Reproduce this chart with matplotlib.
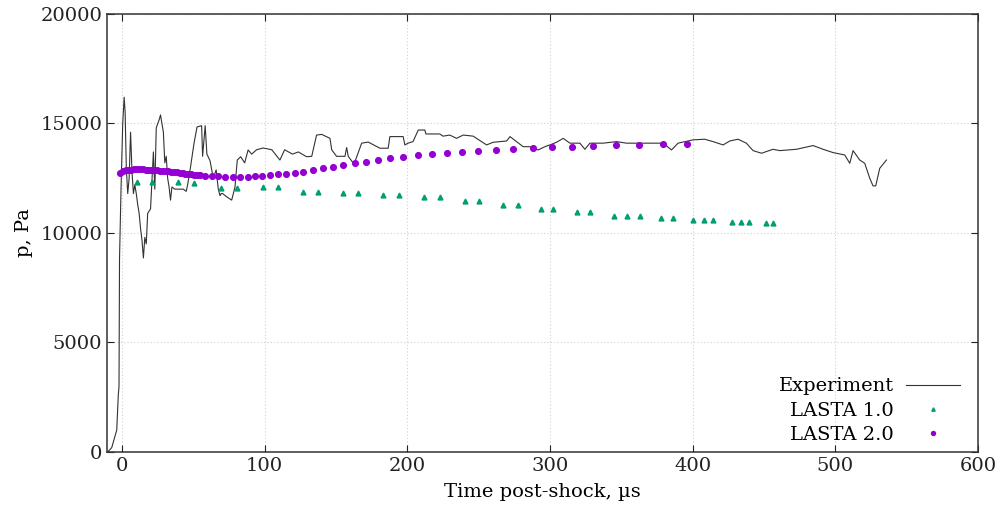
import numpy as np
import matplotlib
matplotlib.use("Agg")
import matplotlib.pyplot as plt

# experiment trace (time in us, pressure in Pa)
exp_t = [-10, -7.2, -3.7, -2.6, -2.1, -1.75, -0.7, 0.5, 1.5, 2.2, 3, 4, 5, 6, 7, 8, 9, 10,
         11, 12, 13, 14, 15, 16, 17, 18, 20, 21, 22, 23, 24, 26, 27, 28, 29, 30, 31, 32,
         33, 34, 35, 37, 40, 43, 45, 46, 48, 50.5, 52.6, 55.8, 56.5, 58.3, 59.5, 61.7,
         64, 66, 67.5, 68.7, 69.5, 70.5, 73.4, 76.9, 79.2, 80.8, 83.2, 86, 88.4, 90.9,
         94.4, 98.9, 105, 110.7, 114, 119.5, 123.6, 129.4, 133, 136.4, 140, 145.8, 147,
         150.4, 156.3, 157.5, 158.6, 162, 163, 168, 172.6, 180.8, 186.6, 187.8, 197.1,
         198.3, 200.6, 204, 207.7, 212.3, 213, 222.8, 225, 229.8, 234.5, 239.2, 246.2,
         248.5, 255.6, 260.2, 269.6, 272, 276.6, 281.2, 286, 291.7, 296.5, 300, 304.6,
         309.3, 314, 321, 324.5, 328, 337.3, 346.7, 353.7, 365.3, 379.4, 385.2, 389.8,
         400.3, 408.5, 414.4, 421.4, 426.1, 431.9, 437.7, 442.4, 448.3, 456.4, 461.1,
         472.8, 484.5, 491.5, 498.5, 506.7, 510.2, 512.5, 517.2, 520.7, 524.2, 526.5,
         528.4, 531.2, 535.9]
exp_p = [0, 200, 1000, 2600, 3000, 8800, 12000, 15000, 16200, 15500, 13000, 11800, 12500,
         14600, 12800, 11800, 12200, 11800, 11300, 10900, 10200, 9680, 8860, 9800, 9500,
         10900, 11100, 12400, 13700, 12000, 14800, 15160, 15390, 15000, 14600, 13200,
         13500, 12500, 12100, 11500, 12100, 12000, 12000, 12000, 11900, 12200, 13000,
         14100, 14840, 14900, 13500, 14900, 13600, 13300, 12500, 12880, 12000, 11700,
         11800, 11800, 11650, 11500, 12100, 13330, 13480, 13200, 13790, 13600, 13800,
         13880, 13800, 13330, 13800, 13600, 13700, 13480, 13500, 14470, 14500, 14320,
         13800, 13500, 13500, 13900, 13500, 13200, 13200, 14100, 14150, 13870, 13870,
         14400, 14400, 14020, 14100, 14170, 14700, 14700, 14520, 14520, 14420, 14470,
         14320, 14470, 14420, 14320, 14020, 14140, 14200, 14400, 14170, 13940, 13940,
         13790, 13940, 14020, 14140, 14320, 14100, 14100, 13820, 14100, 14100, 14170,
         14100, 14100, 14100, 13790, 14100, 14250, 14280, 14170, 14020, 14200, 14280,
         14100, 13760, 13640, 13820, 13760, 13820, 13990, 13820, 13670, 13560, 13180,
         13760, 13330, 13180, 12500, 12150, 12150, 12950, 13330]

# LASTA 1.0
l1_t = [10.3, 21.2, 39.5, 50.7, 69.2, 80.8, 99, 109.5, 127, 137.6, 154.6, 165.2, 183.1,
        194.3, 211.8, 222.8, 240.6, 250.4, 267.2, 277.3, 293.6, 302.3, 319.3, 328.4, 345,
        354.1, 363, 378.2, 386.3, 400.4, 408, 414.4, 427.7, 433.8, 439.6, 451.3, 456.4]
l1_p = [12340, 12340, 12340, 12300, 12040, 12040, 12090, 12090, 11890, 11890, 11840,
        11840, 11740, 11740, 11660, 11660, 11480, 11480, 11280, 11280, 11100, 11100,
        10940, 10940, 10780, 10780, 10780, 10670, 10670, 10590, 10590, 10590, 10520,
        10520, 10520, 10470, 10470]

# LASTA 2.0
l2_t = [-1.4, 0.5, 2.5, 4.5, 6.5, 8.5, 10.5, 12.5, 14.5, 16.5, 18.5, 20.5, 22.5, 24.5,
        26.5, 28.5, 30.5, 32.5, 34.5, 36.5, 38.5, 40.5, 42.5, 44.5, 46.5, 48.5, 50.5,
        52.5, 55, 58.2, 62.8, 67.5, 72.1, 78, 82.7, 88.1, 93.2, 98.3, 103.7, 109.6,
        114.9, 121.2, 127, 134.1, 140.6, 148.1, 155.1, 163.3, 171, 179.2, 187.8, 197.2,
        207.2, 217, 227.5, 238.7, 249.7, 261.9, 274.2, 287.8, 301.1, 315.8, 330.3,
        346.2, 362.5, 379.4, 396.4]
l2_p = [12750, 12820, 12860, 12880, 12890, 12900, 12900, 12900, 12900, 12890, 12880,
        12870, 12870, 12860, 12850, 12840, 12820, 12810, 12800, 12790, 12770, 12750,
        12730, 12710, 12690, 12680, 12660, 12650, 12630, 12620, 12600, 12580, 12560,
        12540, 12550, 12560, 12580, 12620, 12650, 12680, 12710, 12750, 12800, 12870,
        12950, 13030, 13100, 13180, 13260, 13330, 13400, 13490, 13550, 13590, 13670,
        13710, 13740, 13790, 13820, 13870, 13910, 13940, 13970, 14020, 14030, 14050,
        14060]

plt.rcParams['font.family'] = 'DejaVu Serif'
plt.rcParams['font.size'] = 14

fig = plt.figure(figsize=(10.05, 5.07), dpi=100)
ax = fig.add_axes([0.1065, 0.1085, 0.8665, 0.864])

ax.plot(exp_t, exp_p, color='#333333', lw=0.8, label='Experiment')
ax.plot(l1_t, l1_p, ls='none', marker='^', ms=3.5, color='#009e73', label='LASTA 1.0')
ax.plot(l2_t, l2_p, ls='none', marker='o', ms=4.1, color='#9400d3', label='LASTA 2.0')

ax.set_xlim(-10.5, 600)
ax.set_ylim(0, 20000)
ax.set_xticks(np.arange(0, 601, 100))
ax.set_yticks(np.arange(0, 20001, 5000))
ax.tick_params(direction='in', top=True, right=True, length=5, colors='#222222')
ax.grid(True, ls=(0, (1, 2)), color='#d0d0d0', lw=0.8)
for s in ax.spines.values():
    s.set_linewidth(1.1)
    s.set_color('#333333')
ax.set_xlabel('Time post-shock, µs', labelpad=6)
ax.set_ylabel('p, Pa', labelpad=5)

# markerfirst=False right-aligns the rows, so the labels line up on the right
ax.legend(loc='lower right', bbox_to_anchor=(0.9885, 0), frameon=False,
          markerfirst=False, handlelength=2.8, labelspacing=0.33, borderaxespad=0,
          markerscale=0.7, handletextpad=0.6)

fig.savefig('out.png', dpi=100)
